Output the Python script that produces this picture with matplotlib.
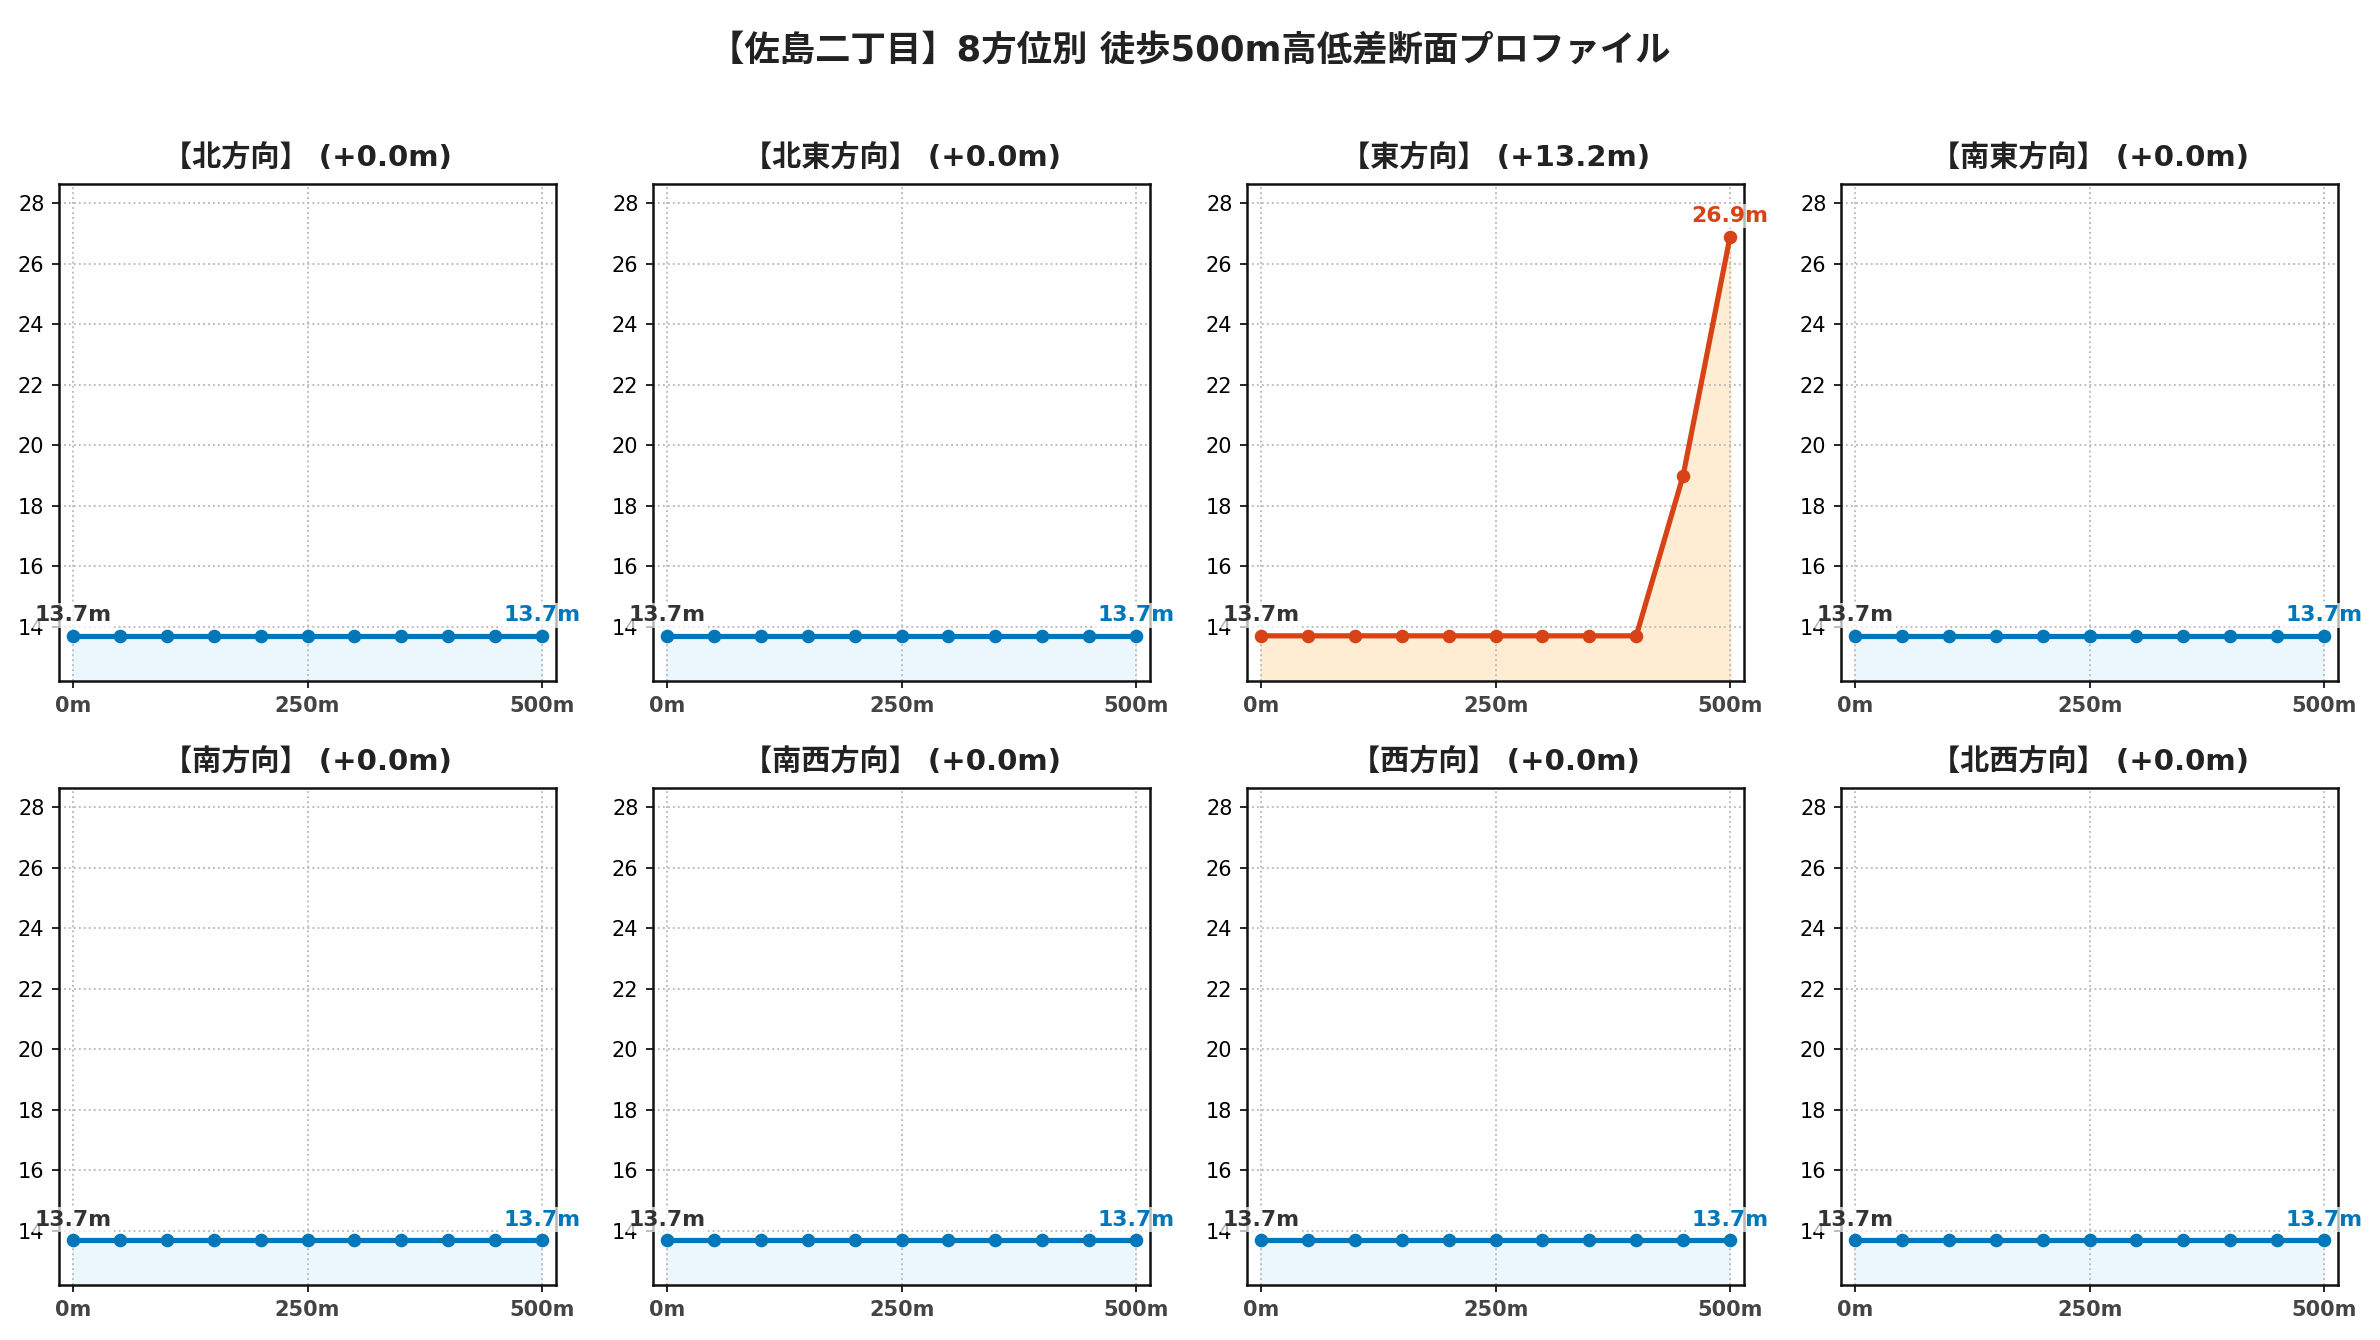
import matplotlib
matplotlib.use("Agg")
import matplotlib.pyplot as plt

plt.rcParams['font.family'] = ['DejaVu Sans', 'Noto Sans CJK JP']

suptitle = "【佐島二丁目】8方位別 徒歩500m高低差断面プロファイル"
directions = ["北", "北東", "東", "南東", "南", "南西", "西", "北西"]
distances = [0, 50, 100, 150, 200, 250, 300, 350, 400, 450, 500]
elev_north = [13.7] * 11
elev_northeast = [13.7] * 11
elev_east = [13.7, 13.7, 13.7, 13.7, 13.7, 13.7, 13.7, 13.7, 13.7, 19.0, 26.9]
elev_southeast = [13.7] * 11
elev_south = [13.7] * 11
elev_southwest = [13.7] * 11
elev_west = [13.7] * 11
elev_northwest = [13.7] * 11
profiles = [elev_north, elev_northeast, elev_east, elev_southeast,
            elev_south, elev_southwest, elev_west, elev_northwest]
xtick_vals = [0, 250, 500]
xtick_labels = ["0m", "250m", "500m"]

Y_LO, Y_HI = 12.2, 28.65

fig, axes = plt.subplots(2, 4, figsize=(2380 / 150, 1340 / 150), dpi=150)
fig.subplots_adjust(left=0.0248, right=0.9824, top=0.863, bottom=0.0408,
                    wspace=0.195, hspace=0.214)

for ax, name, elev in zip(axes.flat, directions, profiles):
    diff = elev[-1] - elev[0]
    if diff > 5:
        lc, fc = '#d84315', '#feecd3'
    else:
        lc, fc = '#0077bb', '#ebf7fd'
    ax.fill_between(distances, elev, Y_LO, color=fc, zorder=1)
    ax.plot(distances, elev, color=lc, linewidth=2.5, marker='o',
            markersize=5.5, zorder=3)
    ax.set_xlim(-15, 515)
    ax.set_ylim(Y_LO, Y_HI)
    ax.set_yticks([14, 16, 18, 20, 22, 24, 26, 28])
    ax.set_xticks(xtick_vals)
    ax.set_xticklabels(xtick_labels, fontweight='bold', color='#444444')
    ax.tick_params(axis='both', labelsize=10)
    ax.grid(True, linestyle=':', color='#bbbbbb', linewidth=0.9)
    for s in ax.spines.values():
        s.set_linewidth(1.2)
        s.set_color('#111111')
    ax.set_title(f"【{name}方向】 (+{diff:.1f}m)", fontsize=14,
                 fontweight='bold', color='#222222', pad=8)
    bb = dict(boxstyle='square,pad=0.1', facecolor='white', alpha=0.7,
              edgecolor='none')
    ax.annotate(f"{elev[0]:.1f}m", (distances[0], elev[0]),
                xytext=(0, 5), textcoords='offset points', ha='center',
                va='bottom', fontsize=10.5, fontweight='bold', color='#333333',
                bbox=bb, annotation_clip=False, zorder=5)
    ax.annotate(f"{elev[-1]:.1f}m", (distances[-1], elev[-1]),
                xytext=(0, 5), textcoords='offset points', ha='center',
                va='bottom', fontsize=10.5, fontweight='bold', color=lc,
                bbox=bb, annotation_clip=False, zorder=5)

fig.suptitle(suptitle, fontsize=17, fontweight='bold', color='#222222',
             y=0.975)

fig.savefig("out.png", dpi=150)
